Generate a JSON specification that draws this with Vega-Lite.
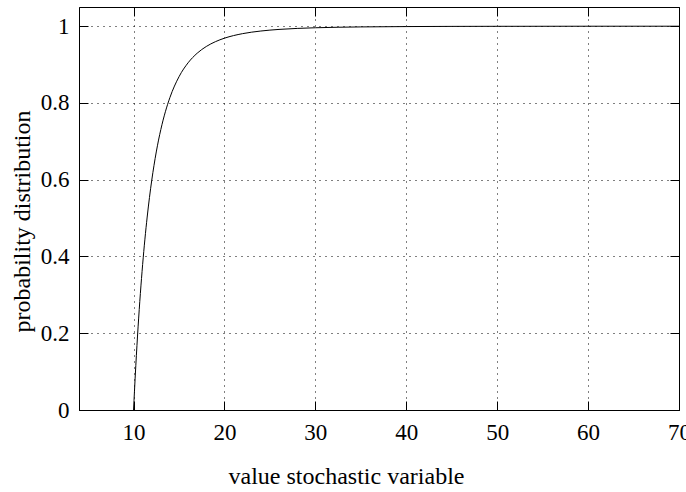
{
  "$schema": "https://vega.github.io/schema/vega-lite/v6.json",
  "width": 600,
  "height": 403,
  "autosize": "none",
  "padding": {"left": 79, "top": 7, "right": 7, "bottom": 82},
  "background": "white",
  "config": {
    "font": "Liberation Serif",
    "view": {"stroke": "black", "strokeWidth": 1},
    "axis": {
      "domainColor": "black",
      "tickColor": "black",
      "tickSize": -9,
      "labelColor": "black",
      "labelFontSize": 23,
      "labelFont": "Liberation Serif",
      "labelFlush": false,
      "labelOverlap": false,
      "titleFont": "Liberation Serif",
      "titleFontSize": 24,
      "titleFontWeight": "normal",
      "titleColor": "black",
      "gridColor": "black",
      "gridDash": [1, 5],
      "gridWidth": 1,
      "gridOpacity": 1
    }
  },
  "data": {
    "values": [
      {"x": 10, "y": 0},
      {"x": 10.1, "y": 0.0485},
      {"x": 10.25, "y": 0.1161},
      {"x": 10.5, "y": 0.2165},
      {"x": 10.75, "y": 0.3034},
      {"x": 11, "y": 0.3791},
      {"x": 11.25, "y": 0.4451},
      {"x": 11.5, "y": 0.5028},
      {"x": 11.75, "y": 0.5535},
      {"x": 12, "y": 0.5981},
      {"x": 12.5, "y": 0.6723},
      {"x": 13, "y": 0.7307},
      {"x": 13.5, "y": 0.777},
      {"x": 14, "y": 0.8141},
      {"x": 15, "y": 0.8683},
      {"x": 16, "y": 0.9046},
      {"x": 17, "y": 0.9296},
      {"x": 18, "y": 0.9471},
      {"x": 19, "y": 0.9596},
      {"x": 20, "y": 0.96875},
      {"x": 22, "y": 0.9806},
      {"x": 24, "y": 0.9874},
      {"x": 26, "y": 0.9916},
      {"x": 28, "y": 0.9942},
      {"x": 30, "y": 0.9959},
      {"x": 35, "y": 0.9981},
      {"x": 40, "y": 0.999},
      {"x": 45, "y": 0.9995},
      {"x": 50, "y": 0.9997},
      {"x": 60, "y": 0.9999},
      {"x": 70, "y": 0.99994}
    ]
  },
  "layer": [
    {
      "mark": {"type": "line", "color": "black", "strokeWidth": 1, "interpolate": "monotone", "clip": true},
      "encoding": {
        "x": {
          "field": "x", "type": "quantitative",
          "scale": {"domain": [4, 70], "nice": false, "zero": false},
          "axis": {
            "orient": "bottom",
            "values": [10, 20, 30, 40, 50, 60, 70],
            "format": "d",
            "grid": true,
            "labelPadding": 20,
            "title": "value stochastic variable",
            "titleX": 267,
            "titleY": 73,
            "titleBaseline": "alphabetic",
            "titleAnchor": null
          }
        },
        "y": {
          "field": "y", "type": "quantitative",
          "scale": {"domain": [0, 1.05], "nice": false, "zero": false},
          "axis": {
            "orient": "left",
            "values": [0, 0.2, 0.4, 0.6, 0.8, 1],
            "format": "~g",
            "grid": true,
            "labelPadding": 19,
            "title": "probability distribution",
            "titleAngle": -90,
            "titleX": -50,
            "titleY": 214,
            "titleAlign": "center",
            "titleBaseline": "alphabetic",
            "titleAnchor": null
          }
        }
      }
    },
    {
      "mark": {"type": "line", "opacity": 0},
      "encoding": {
        "x": {
          "field": "x", "type": "quantitative",
          "axis": {"orient": "top", "values": [10, 20, 30, 40, 50, 60, 70], "labels": false, "title": null, "grid": false, "domain": false}
        },
        "y": {
          "field": "y", "type": "quantitative",
          "axis": {"orient": "right", "values": [0, 0.2, 0.4, 0.6, 0.8, 1], "labels": false, "title": null, "grid": false, "domain": false}
        }
      }
    }
  ],
  "resolve": {"axis": {"x": "independent", "y": "independent"}}
}
